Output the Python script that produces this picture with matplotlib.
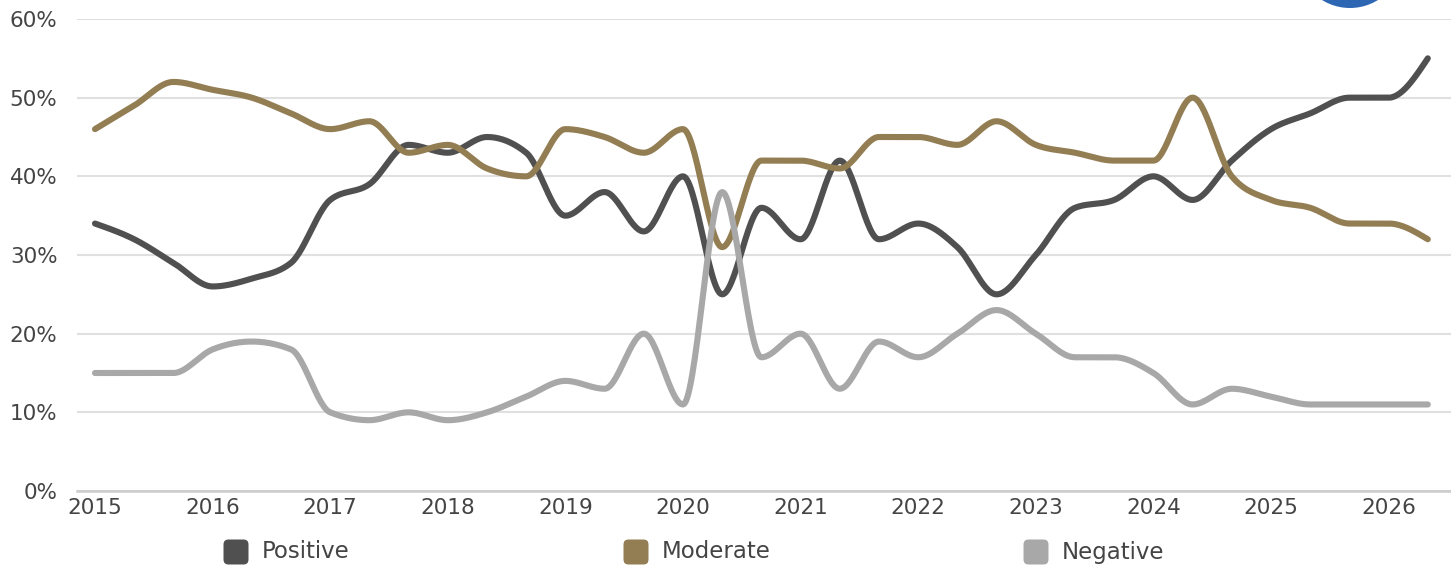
#!/usr/bin/env python3
"""Sentiment share over time: Positive / Moderate / Negative, smoothed lines."""

import matplotlib
matplotlib.use("Agg")
import matplotlib.pyplot as plt
import numpy as np
from matplotlib.patches import Circle, FancyBboxPatch
from matplotlib.ticker import FuncFormatter

# one point every 4 months, starting Jan 2015
periods = np.arange(35) / 3 + 2015

positive = [34, 32, 29, 26, 27, 29, 37, 39, 44, 43, 45, 43, 35, 38, 33, 40, 25, 36,
            32, 42, 32, 34, 31, 25, 30, 36, 37, 40, 37, 42, 46, 48, 50, 50, 55]
moderate = [46, 49, 52, 51, 50, 48, 46, 47, 43, 44, 41, 40, 46, 45, 43, 46, 31, 42,
            42, 41, 45, 45, 44, 47, 44, 43, 42, 42, 50, 40, 37, 36, 34, 34, 32]
negative = [15, 15, 15, 18, 19, 18, 10, 9, 10, 9, 10, 12, 14, 13, 20, 11, 38, 17,
            20, 13, 19, 17, 20, 23, 20, 17, 17, 15, 11, 13, 12, 11, 11, 11, 11]

series_names = ["Positive", "Moderate", "Negative"]
series_colors = ["#505050", "#937d53", "#a8a8a8"]
year_ticks = list(range(2015, 2027))

TEXT = "#444444"


def monotone_slopes(x, y):
    # same slope rule as d3's curveMonotoneX
    x = np.asarray(x, float)
    y = np.asarray(y, float)
    h = np.diff(x)
    s = np.diff(y) / h
    m = np.zeros_like(y)
    for i in range(1, len(y) - 1):
        p = (s[i - 1] * h[i] + s[i] * h[i - 1]) / (h[i - 1] + h[i])
        m[i] = (np.sign(s[i - 1]) + np.sign(s[i])) * min(abs(s[i - 1]), abs(s[i]), 0.5 * abs(p))
    m[0] = (3 * s[0] - m[1]) / 2
    m[-1] = (3 * s[-1] - m[-2]) / 2
    return m


def smooth(x, y, n=30):
    x = np.asarray(x, float)
    y = np.asarray(y, float)
    m = monotone_slopes(x, y)
    xs, ys = [], []
    for i in range(len(x) - 1):
        h = x[i + 1] - x[i]
        t = np.linspace(0, 1, n, endpoint=False)
        h00 = 2 * t**3 - 3 * t**2 + 1
        h10 = t**3 - 2 * t**2 + t
        h01 = -2 * t**3 + 3 * t**2
        h11 = t**3 - t**2
        xs.append(x[i] + t * h)
        ys.append(h00 * y[i] + h10 * h * m[i] + h01 * y[i + 1] + h11 * h * m[i + 1])
    xs.append([x[-1]])
    ys.append([y[-1]])
    return np.concatenate(xs), np.concatenate(ys)


plt.rcParams["font.family"] = ["DejaVu Sans"]

fig = plt.figure(figsize=(14.51, 5.67), dpi=100)
ax = fig.add_axes([77 / 1451, 1 - 491 / 567, 1 - 77 / 1451, (491 - 19) / 567])

for name, vals, col in zip(series_names, [positive, moderate, negative], series_colors):
    sx, sy = smooth(periods, vals)
    ax.plot(sx, sy, color=col, lw=4.4, solid_capstyle="round", solid_joinstyle="round", label=name)

ax.set_ylim(0, 60)
ax.set_xlim(2015 - 18 / 117.6, 2015 + 1356 / 117.6)
ax.set_yticks(range(0, 61, 10))
ax.yaxis.set_major_formatter(FuncFormatter(lambda v, _: f"{v:.0f}%"))
ax.set_xticks(year_ticks)
ax.set_xticklabels([str(y) for y in year_ticks])
ax.grid(axis="y", color="#e0e0e0", lw=1.5)
ax.set_axisbelow(True)
for side in ["top", "right", "left"]:
    ax.spines[side].set_visible(False)
ax.spines["bottom"].set_color("#cccccc")
ax.spines["bottom"].set_linewidth(1.8)
ax.tick_params(length=0, labelsize=15.5, colors=TEXT, pad=5)
ax.tick_params(axis="y", pad=14)

# legend along the bottom
tr = fig.dpi_scale_trans
for k, (name, col) in enumerate(zip(series_names, series_colors)):
    cx = (236 + 400 * k) / 100
    cy = (567 - 552) / 100
    box = FancyBboxPatch((cx - 0.10, cy - 0.10), 0.20, 0.20,
                         boxstyle="round,pad=0.025,rounding_size=0.05",
                         transform=tr, facecolor=col, edgecolor="none")
    fig.add_artist(box)
    fig.text((262 + 400 * k) / 1451, cy / 5.67, name, color=TEXT, fontsize=16.5, va="center")

# logo circle cut off at top right
fig.add_artist(Circle((13.50, 6.12), 0.53, transform=tr, facecolor="#2d67b4", edgecolor="none"))

fig.savefig("out.png", dpi=100)
